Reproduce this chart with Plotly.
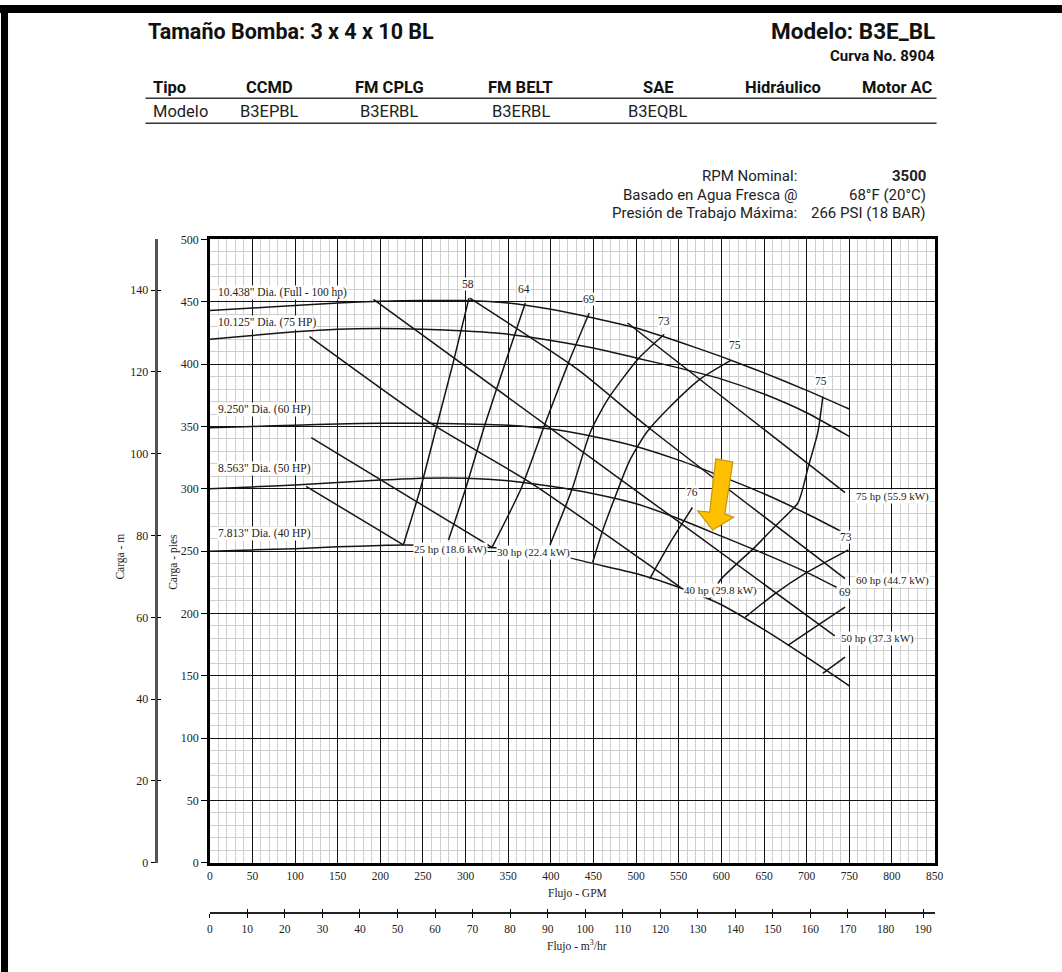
import plotly.graph_objects as go

W, H = 1062, 972
# the page body keeps an 8 px margin, so the drawing area is 16 px smaller than the window
PAGE_PAD = 8
FT_PER_M = 3.28084
GPM_PER_M3H = 4.40287

SERIF = "Liberation Serif"
HEAD_FONT = "Roboto"

# ---------------- impeller curves: flow (GPM) vs head (ft) ----------------
dia_10438_q = [0, 50, 100, 150, 200, 250, 300, 350, 400, 450, 500, 550, 600, 650, 700, 750]
dia_10438_h = [443, 445, 447, 449, 450.5, 451, 451, 449, 444, 437, 429, 418, 406, 393, 379, 364]

dia_10125_q = [0, 50, 100, 150, 200, 250, 300, 350, 400, 450, 500, 550, 600, 650, 700, 750]
dia_10125_h = [420, 423, 426, 428, 428.5, 428, 426.5, 424, 419, 413, 405, 397, 388, 376, 361, 342]

dia_9250_q = [0, 50, 100, 150, 200, 250, 300, 350, 400, 450, 500, 550, 600, 650, 700, 740]
dia_9250_h = [349, 350, 351, 352, 352.5, 352.5, 352, 351, 348, 342, 334, 323, 310, 296, 280, 266]

dia_8563_q = [0, 50, 100, 150, 200, 250, 300, 350, 400, 450, 500, 550, 600, 650, 700, 735]
dia_8563_h = [300, 301.5, 303, 305, 307, 308.5, 308.5, 306.5, 302, 296, 288, 276, 262, 248, 233, 221]

dia_7813_q = [0, 50, 100, 150, 200, 226, 300, 350, 400, 450, 500, 550, 600, 650, 700, 750]
dia_7813_h = [250, 251, 252, 253.5, 254.5, 255, 254, 252, 248, 240, 232, 221, 207, 187, 165, 142]

# ---------------- iso-efficiency curves ----------------
eff_58_q = [304, 285, 266, 247, 227]
eff_58_h = [453, 400, 350, 300, 255]
eff_64_q = [370, 346, 322, 300, 280]
eff_64_h = [449, 400, 350, 300, 259]
eff_69_q = [445, 420, 392, 365, 331]
eff_69_h = [441, 400, 350, 300, 253]
eff_73_q = [533, 502, 466, 446, 425, 399]
eff_73_h = [424, 404, 371, 345, 300, 255]
eff_75_q = [611, 575, 540, 512, 492, 474, 460, 449]
eff_75_h = [403, 388, 366, 345, 322, 291, 265, 241]
eff_76_q = [566, 541, 516]
eff_76_h = [285, 258, 228]
eff_75r_q = [719, 713, 702, 690, 666, 639, 599, 586]
eff_75r_h = [374, 345, 318, 289, 272, 253, 227, 211]
eff_73r_q = [749, 698, 663, 628]
eff_73r_h = [251, 232, 216, 197]
eff_69r_q = [745, 712, 678]
eff_69r_h = [205, 190, 174.5]
eff_64r_q = [745, 719]
eff_64r_h = [165, 152]

# ---------------- power lines ----------------
hp_25_q = [113, 227]
hp_25_h = [302, 255]
hp_30_q = [119, 331]
hp_30_h = [341, 253]
hp_40_q = [117, 258, 376, 513, 552]
hp_40_h = [422, 353, 305, 240, 221]
hp_50_q = [192, 513, 733]
hp_50_h = [452, 292, 182]
hp_60_q = [305, 431, 513, 745]
hp_60_h = [453, 396, 350, 228]
hp_75_q = [490, 745]
hp_75_h = [433, 297]

# ---------------- labels ----------------
dia_labels = ['10.438" Dia. (Full - 100 hp)', '10.125" Dia. (75 HP)', '9.250" Dia. (60 HP)',
              '8.563" Dia. (50 HP)', '7.813" Dia. (40 HP)']
dia_label_q = [9, 9, 9, 9, 9]
dia_label_h = [457.5, 433.5, 364, 316.5, 264.5]

hp_labels = ["25 hp (18.6 kW)", "30 hp (22.4 kW)", "40 hp (29.8 kW)",
             "50 hp (37.3 kW)", "60 hp (44.7 kW)", "75 hp (55.9 kW)"]
hp_label_q = [238, 336, 555, 739, 757, 757]
hp_label_h = [251.5, 249, 218.5, 180, 226.5, 293.5]

eff_labels = ["58", "64", "69", "73", "75", "75", "76", "73", "69"]
eff_label_q = [302.5, 368.5, 445, 533, 616, 717, 566, 746, 745]
eff_label_h = [464.5, 460.5, 452.5, 435, 415, 386.5, 297.5, 261.5, 217]

gpm_ticks = list(range(0, 851, 50))
ft_ticks = list(range(0, 501, 50))
m_ticks = list(range(0, 141, 20))
m3h_ticks = list(range(0, 191, 10))

table_cols = ["Tipo", "CCMD", "FM CPLG", "FM BELT", "SAE", "Hidráulico", "Motor AC"]
table_models = ["Modelo", "B3EPBL", "B3ERBL", "B3ERBL", "B3EQBL", "", ""]


def px(x):
    return (x - PAGE_PAD) / (W - 2 * PAGE_PAD)


def py(y):
    return 1 - (y - PAGE_PAD) / (H - 2 * PAGE_PAD)


fig = go.Figure()

line_style = dict(color="#151515", width=1.5)
curves = [
    (dia_10438_q, dia_10438_h), (dia_10125_q, dia_10125_h), (dia_9250_q, dia_9250_h),
    (dia_8563_q, dia_8563_h), (dia_7813_q, dia_7813_h),
    (eff_58_q, eff_58_h), (eff_64_q, eff_64_h), (eff_69_q, eff_69_h), (eff_73_q, eff_73_h),
    (eff_75_q, eff_75_h), (eff_76_q, eff_76_h), (eff_75r_q, eff_75r_h), (eff_73r_q, eff_73r_h),
    (eff_69r_q, eff_69r_h), (eff_64r_q, eff_64r_h),
    (hp_25_q, hp_25_h), (hp_30_q, hp_30_h), (hp_40_q, hp_40_h), (hp_50_q, hp_50_h),
    (hp_60_q, hp_60_h), (hp_75_q, hp_75_h),
]
for q, h in curves:
    fig.add_trace(go.Scatter(x=q, y=h, mode="lines", line=dict(shape="spline", smoothing=0.6, **line_style),
                             hoverinfo="skip", showlegend=False))

# invisible traces so the secondary scales are drawn
for xa, ya in [("x", "y2"), ("x", "y3"), ("x2", "y"), ("x3", "y")]:
    fig.add_trace(go.Scatter(x=[0], y=[0], xaxis=xa, yaxis=ya, mode="markers",
                             marker=dict(opacity=0), hoverinfo="skip", showlegend=False))


def text(x, y, t, size, family=SERIF, anchor="center", ref="paper", bg=None, angle=0, color="#222"):
    d = dict(x=x, y=y, xref="x" if ref == "data" else "paper", yref="y" if ref == "data" else "paper",
             text=t, showarrow=False, xanchor=anchor, yanchor="middle", textangle=angle,
             font=dict(family=family, size=size, color=color))
    if bg:
        d.update(bgcolor=bg, borderpad=0)
    return d


ann = []
for t, q, h in zip(dia_labels, dia_label_q, dia_label_h):
    ann.append(text(q, h, t, 11.5, anchor="left", ref="data", bg="white"))
for t, q, h in zip(hp_labels, hp_label_q, hp_label_h):
    ann.append(text(q, h, t, 11, anchor="left", ref="data", bg="white"))
for t, q, h in zip(eff_labels, eff_label_q, eff_label_h):
    ann.append(text(q, h, t, 11.5, ref="data", bg="white"))

# axis titles
ann += [
    text(px(580), py(893), "Flujo - GPM", 11.5),
    text(px(580), py(945), "Flujo - m<sup>3</sup>/hr", 11.5),
    text(px(178), py(562), "Carga - pies", 11.5, angle=-90),
    text(px(125), py(556), "Carga - m", 11.5, angle=-90),
]

# header
ann += [
    text(px(150), py(32), "<b>Tamaño Bomba: 3 x 4 x 10 BL</b>", 21.5, HEAD_FONT, "left", color="#111"),
    text(px(938), py(32), "<b>Modelo: B3E_BL</b>", 22.5, HEAD_FONT, "right", color="#111"),
    text(px(938), py(57), "<b>Curva No. 8904</b>", 15, HEAD_FONT, "right", color="#111"),
]
col_x = [155, 273, 393, 524, 661, 785, 936]
col_anchor = ["left", "center", "center", "center", "center", "center", "right"]
for t, m, cx, an in zip(table_cols, table_models, col_x, col_anchor):
    ann.append(text(px(cx), py(88), f"<b>{t}</b>", 16.5, HEAD_FONT, an, color="#111"))
    if m:
        ann.append(text(px(cx), py(112), m, 16.5, HEAD_FONT, an))

info_left = ["RPM Nominal:", "Basado en Agua Fresca @", "Presión de Trabajo Máxima:"]
info_right = ["<b>3500</b>", "68°F (20°C)", "266 PSI (18 BAR)"]
for yy, a, b in zip([177, 196, 214], info_left, info_right):
    ann.append(text(px(801), py(yy), a, 15, HEAD_FONT, "right"))
    ann.append(text(px(929), py(yy), b, 15, HEAD_FONT, "right"))

shapes = [
    # page borders
    dict(type="rect", xref="paper", yref="paper", x0=px(5), x1=1.01, y0=py(14), y1=py(6),
         fillcolor="black", line=dict(width=0)),
    dict(type="rect", xref="paper", yref="paper", x0=px(6), x1=px(13), y0=-0.01, y1=py(6),
         fillcolor="black", line=dict(width=0)),
    # table rules
    dict(type="line", xref="paper", yref="paper", x0=px(150), x1=px(938), y0=py(99), y1=py(99),
         line=dict(color="#333", width=1.5)),
    dict(type="line", xref="paper", yref="paper", x0=px(150), x1=px(938), y0=py(124), y1=py(124),
         line=dict(color="#333", width=1.5)),
    # highlight arrow
    dict(type="path", xref="x", yref="y",
         path="M 593.4 324 L 613.4 321.6 L 604 279.8 L 614.5 277.3 L 589.8 266.9 L 572.2 282.2 L 586.3 281.4 Z",
         fillcolor="#FFC000", line=dict(color="#C9940A", width=1.2)),
]

axis_font = dict(family=SERIF, size=12, color="#222")
fig.update_layout(
    width=W, height=H, margin=dict(l=0, r=0, t=0, b=0),
    paper_bgcolor="white", plot_bgcolor="white", showlegend=False,
    xaxis=dict(domain=[px(214), px(936)], range=[0, 850], tickvals=gpm_ticks, showgrid=True,
               gridcolor="#111", gridwidth=1.4,
               minor=dict(dtick=10, showgrid=True, gridcolor="#cfcfcf", gridwidth=1.2),
               showline=True, linecolor="black", linewidth=2.5, mirror=True, ticks="",
               zeroline=False, tickfont=dict(family=SERIF, size=11.5, color="#222"), ticklabelstandoff=1),
    yaxis=dict(domain=[py(862), py(240)], range=[0, 500], tickvals=ft_ticks, showgrid=True,
               gridcolor="#111", gridwidth=1.4,
               minor=dict(dtick=10, showgrid=True, gridcolor="#cfcfcf", gridwidth=1.2),
               showline=True, linecolor="black", linewidth=2.5, mirror=True, ticks="outside",
               ticklen=6, tickcolor="black", zeroline=False, tickfont=axis_font),
    yaxis2=dict(overlaying="y", anchor="free", position=px(160), side="left", range=[0, 500 / FT_PER_M],
                tickvals=m_ticks, showgrid=False, zeroline=False, showline=True, linecolor="#555",
                linewidth=3, ticks="outside", ticklen=4, tickcolor="black", tickfont=axis_font),
    yaxis3=dict(overlaying="y", anchor="free", position=px(160), side="left", range=[0, 500 / FT_PER_M],
                tickvals=m_ticks, showgrid=False, zeroline=False, showline=False, ticks="inside",
                ticklen=4, tickcolor="black", showticklabels=False),
    xaxis2=dict(overlaying="x", anchor="free", position=py(912), side="bottom", range=[0, 850 / GPM_PER_M3H],
                tickvals=m3h_ticks, showgrid=False, zeroline=False, showline=True, linecolor="#222",
                linewidth=1.5, ticks="outside", ticklen=4, tickcolor="black",
                tickfont=dict(family=SERIF, size=11.5, color="#222"), ticklabelstandoff=2),
    xaxis3=dict(overlaying="x", anchor="free", position=py(912), side="bottom", range=[0, 850 / GPM_PER_M3H],
                tickvals=m3h_ticks, showgrid=False, zeroline=False, showline=False, ticks="inside",
                ticklen=4, tickcolor="black", showticklabels=False),
    annotations=ann, shapes=shapes,
)

fig.write_html("out.html")
